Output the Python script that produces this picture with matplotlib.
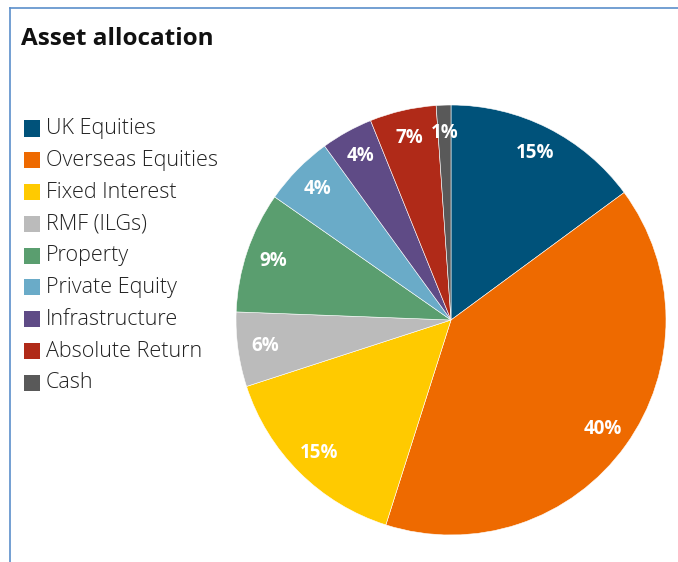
import matplotlib.pyplot as plt
from matplotlib.patches import Rectangle
from matplotlib.lines import Line2D

plt.rcParams['font.family'] = ['Open Sans', 'DejaVu Sans']

categories = ['UK Equities', 'Overseas Equities', 'Fixed Interest', 'RMF (ILGs)',
              'Property', 'Private Equity', 'Infrastructure', 'Absolute Return', 'Cash']
# slice sizes (degrees / 3.6)
sizes = [14.9, 40.0, 15.1, 5.6, 9.1, 5.3, 3.9, 5.0, 1.1]
# labels as printed on the chart
pct_labels = ['15%', '40%', '15%', '6%', '9%', '4%', '4%', '7%', '1%']
colors = ['#00527a', '#ee6a00', '#ffca00', '#bbbbbb', '#5a9e6f',
          '#6aabc8', '#5f4b86', '#b02a18', '#595959']

fig = plt.figure(figsize=(6.78, 5.62), dpi=100)

# frame lines at top and left
fig.add_artist(Line2D([10/678, 10/678], [0, 1 - 8/562], color='#5b8fcb', lw=1.2))
fig.add_artist(Line2D([10/678, 1], [1 - 8/562, 1 - 8/562], color='#5b8fcb', lw=1.2))

fig.text(21/678, 1 - 39/562, 'Asset allocation', fontsize=17.5, fontweight='bold',
         va='center', ha='left', color='#111111')

ax = fig.add_axes([(451 - 215)/678, (242 - 215)/562, 430/678, 430/562])
wedges, texts = ax.pie(sizes, colors=colors, startangle=90, counterclock=False,
                       labels=pct_labels, labeldistance=0.87,
                       wedgeprops=dict(linewidth=0.4, edgecolor='white'))
for t in texts:
    t.set_color('white')
    t.set_fontweight('bold')
    t.set_fontsize(13.5)
    t.set_ha('center')
    t.set_va('center')
ax.set_xlim(-1, 1)
ax.set_ylim(-1, 1)
ax.set_aspect('equal')
ax.axis('off')

# legend
for i, (name, c) in enumerate(zip(categories, colors)):
    yc = 128.5 + i * 31.8
    fig.add_artist(Rectangle((24/678, 1 - (yc + 8)/562), 16/678, 16/562,
                             facecolor=c, edgecolor='none'))
    fig.text(46/678, 1 - yc/562, name, fontsize=15.5, va='center', ha='left',
             color='#222222', fontweight='light')

fig.savefig('out.png', dpi=100)
